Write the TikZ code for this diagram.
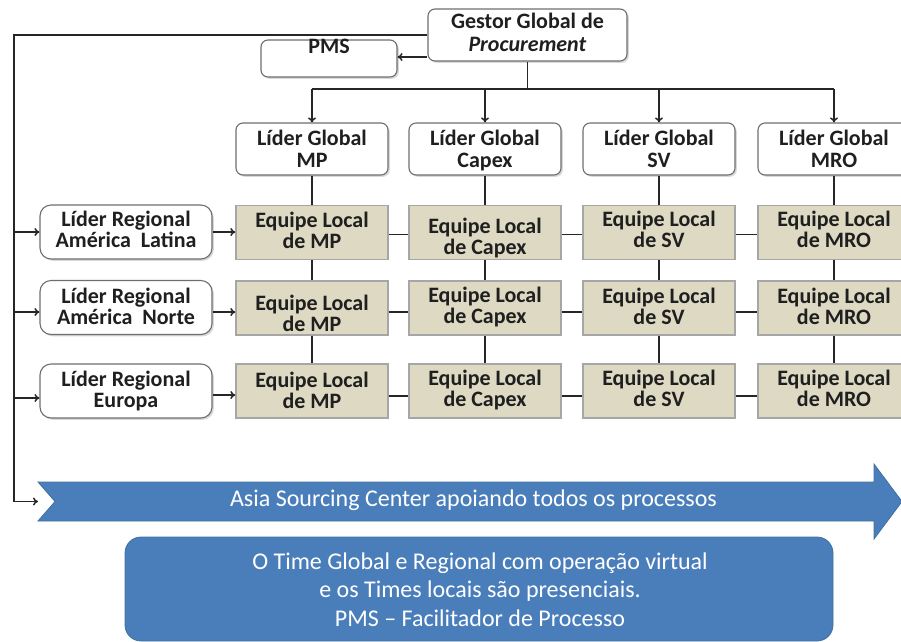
\documentclass[tikz,border=0pt]{standalone}
\usepackage{fontspec}
\setmainfont{Carlito}
\usetikzlibrary{arrows.meta,shadows,calc}

\definecolor{tanfill}{HTML}{DDD9C3}
\definecolor{tanline}{HTML}{A6A6A6}
\definecolor{officeblue}{HTML}{4A7EBB}
\definecolor{blueedge}{HTML}{41719C}
\definecolor{boxedge}{HTML}{6E6E6E}

% invisible strut fixing the first baseline below a text node's top edge
\newcommand\firstline{\rule{0pt}{18pt}}

\tikzset{
  lbl/.style={font=\bfseries\fontsize{22}{21}\selectfont, align=center, text=black!88,
    inner sep=0pt, anchor=north},
  leader/.style={draw=boxedge, line width=1.1pt, fill=white, rounded corners=7pt,
    minimum width=152pt, minimum height=52pt,
    drop shadow={shadow xshift=1.8pt, shadow yshift=-1.8pt, fill=black!30}},
  regional/.style={leader, minimum width=172pt, minimum height=54pt, rounded corners=11pt},
  team/.style={draw=tanline, line width=1.4pt, fill=tanfill,
    minimum width=152pt, minimum height=54pt},
  link/.style={line width=1.5pt, draw=black!85},
  arr/.style={link, -{To[length=5pt,width=8pt]}},
  bluebox/.style={fill=officeblue, draw=blueedge, line width=0.8pt},
  bluetext/.style={font=\fontsize{24}{28.5}\selectfont, text=white, align=center, inner sep=0pt}
}

\begin{document}
\begin{tikzpicture}[x=1pt, y=-1pt]
  \useasboundingbox (0,0) rectangle (901,641);

  % top of the hierarchy
  \node[leader, minimum width=199pt] (gestor) at (527.5,35) {};
  \node[lbl, font=\bfseries\fontsize{22}{23}\selectfont] (gestor-t) at (527.5,10)
    {\firstline Gestor Global de\\\textit{Procurement}};
  \node[leader, minimum width=136pt, minimum height=37pt] (pms) at (329,58.5) {};
  \node[lbl] (pms-t) at (329,35) {\firstline PMS};

  % global leaders
  \foreach \n/\x/\t in {lgmp/312/MP, lgcap/485/Capex, lgsv/659/SV, lgmro/834/MRO} {
    \node[leader] (\n) at (\x,149) {};
    \node[lbl, font=\bfseries\fontsize{22}{22}\selectfont] (\n-t) at (\x,127)
      {\firstline L\'{\i}der Global\\\t};
  }

  % regional leaders
  \foreach \n/\y/\b/\t in {rlat/232/226/Am\'erica\ \ Latina,
                           rnor/307.5/303/Am\'erica\ \ Norte,
                           reur/391/386/Europa} {
    \node[regional] (\n) at (126,\y) {};
    \node[lbl] (\n-t) at (126,\b-18) {\firstline L\'{\i}der Regional\\\t};
  }

  % local teams: rows = regions, columns = categories; \b = first baseline
  \foreach \r/\y in {1/232.5, 2/308, 3/391}
    \foreach \c/\x/\t in {1/312/MP, 2/485/Capex, 3/659/SV, 4/834/MRO}
      \node[team] (t\r\c) at (\x,\y) {};
  \foreach \r/\c/\x/\b/\t in {1/1/312/227/MP, 1/2/485/233/Capex, 1/3/659/226/SV, 1/4/834/226/MRO,
                              2/1/312/310/MP, 2/2/485/302/Capex, 2/3/659/303/SV, 2/4/834/303/MRO,
                              3/1/312/387/MP, 3/2/485/385/Capex, 3/3/659/385/SV, 3/4/834/385/MRO}
    \node[lbl] (t\r\c-t) at (\x,\b-18) {\firstline Equipe Local\\de \t};

  % Asia Sourcing Center arrow
  \coordinate (asiatail) at (38,501.5);
  \filldraw[bluebox] (38,482) -- (874,482) -- (874,464) -- (902,501.5) -- (874,539)
    -- (874,521) -- (38,521) -- (55,501.5) -- cycle;
  \node[bluetext, anchor=base] (asia) at (473.5,506)
    {Asia Sourcing Center apoiando todos os processos};

  % summary panel
  \node[bluebox, rounded corners=16pt, minimum width=708pt, minimum height=104pt]
    (note) at (479,589) {};
  \node[bluetext, anchor=north] (note-t) at (480,551)
    {\firstline O Time Global e Regional com operação virtual\\
     e os Times locais são presenciais.\\
     PMS – Facilitador de Processo};

  % gestor to PMS and to the global leaders
  \draw[arr] ($(gestor.west)+(0,22)$) -- ($(pms.east)+(0,-1.5)$);
  \coordinate (bus) at (527.5,89);
  \draw[link] (gestor.south) -- (bus);
  \draw[link] (bus -| lgmp) -- (bus -| lgmro);
  \foreach \n in {lgmp, lgcap, lgsv, lgmro}
    \draw[arr] (bus -| \n) -- (\n.north);

  % trunk on the left feeding the regions and the Asia arrow
  \coordinate (trunktop) at (14,35);
  \coordinate (trunkbot) at (14,501.5);
  \draw[link] (gestor.west) -- (trunktop) -- (trunkbot);
  \draw[arr] (trunkbot) -- (asiatail);
  \draw[arr] (trunktop |- rlat) -- (rlat.west);
  \draw[arr] ($(trunktop |- rnor)+(0,4.5)$) -- ($(rnor.west)+(0,4.5)$);
  \draw[arr] ($(trunktop |- reur)+(0,7)$) -- ($(reur.west)+(0,7)$);

  % regions to their MP teams
  \draw[arr] (rlat.east) -- (rlat.east -| t11.west);
  \draw[arr] ($(rnor.east)+(0,4.5)$) -- ($(rnor.east -| t21.west)+(0,4.5)$);
  \draw[arr] ($(reur.east)+(0,4)$) -- ($(reur.east -| t31.west)+(0,4)$);

  % vertical links: global leader down through the teams
  \foreach \c/\n in {1/lgmp, 2/lgcap, 3/lgsv, 4/lgmro} {
    \draw[link] (\n.south) -- (t1\c.north);
    \draw[link] (t1\c.south) -- (t2\c.north);
    \draw[link] (t2\c.south) -- (t3\c.north);
  }

  % horizontal links between teams of the same region
  \foreach \r/\d in {1/2, 2/4, 3/5}
    \foreach \a/\b in {1/2, 2/3, 3/4}
      \draw[link] ($(t\r\a.east)+(0,\d)$) -- ($(t\r\b.west)+(0,\d)$);
\end{tikzpicture}
\end{document}
